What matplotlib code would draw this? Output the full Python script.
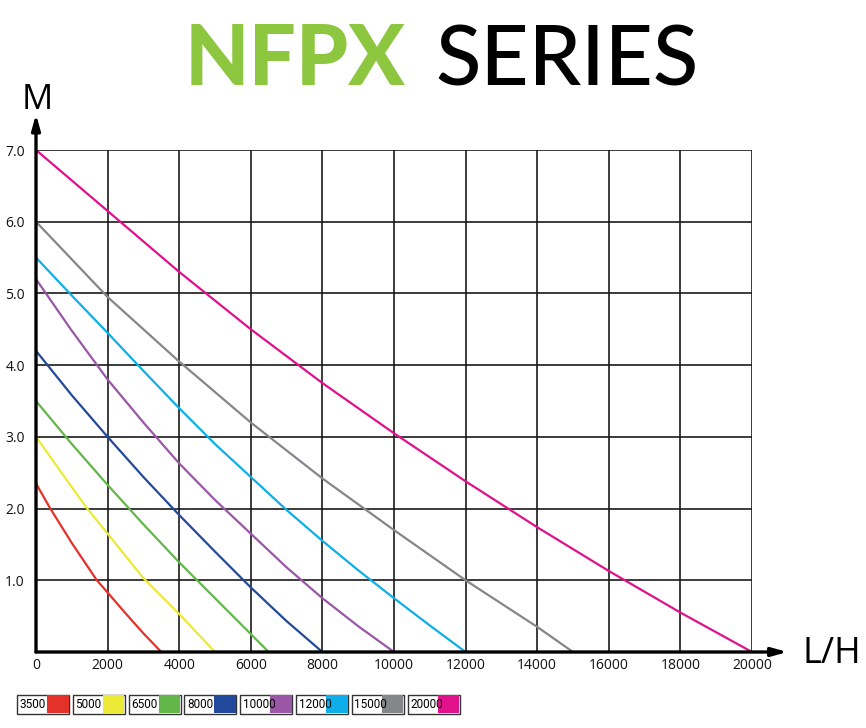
import matplotlib
matplotlib.use("Agg")
import matplotlib.pyplot as plt
from matplotlib.patches import Rectangle
from matplotlib import font_manager

# pump models (max flow L/H) and their curve colours
models = ["3500", "5000", "6500", "8000", "10000", "12000", "15000", "20000"]
colors = ["#e4322b", "#ece937", "#63b649", "#22499b", "#9a57a6", "#0eaeea", "#85868a", "#e0118a"]

# head (M) vs flow (L/H)
flow_3500 = [0, 400, 1000, 1700, 2000, 2500, 3000, 3500]
head_3500 = [2.35, 2.0, 1.52, 1.0, 0.83, 0.54, 0.26, 0.0]

flow_5000 = [0, 1000, 1430, 2000, 3000, 4000, 5000]
head_5000 = [3.0, 2.3, 2.0, 1.65, 1.03, 0.53, 0.0]

flow_6500 = [0, 1000, 2000, 3000, 4000, 5000, 6000, 6500]
head_6500 = [3.5, 2.9, 2.33, 1.78, 1.25, 0.75, 0.25, 0.0]

flow_8000 = [0, 1000, 2000, 3000, 4000, 5000, 6000, 7000, 8000]
head_8000 = [4.2, 3.58, 3.0, 2.44, 1.91, 1.4, 0.9, 0.43, 0.0]

flow_10000 = [0, 1000, 2000, 3000, 4000, 5000, 6000, 7000, 8000, 9000, 10000]
head_10000 = [5.2, 4.48, 3.8, 3.2, 2.63, 2.12, 1.65, 1.18, 0.75, 0.36, 0.0]

flow_12000 = [0, 1000, 2000, 3000, 4000, 5000, 6000, 7000, 8000, 9000, 10000, 11000, 12000]
head_12000 = [5.5, 4.97, 4.45, 3.92, 3.4, 2.9, 2.44, 1.98, 1.55, 1.14, 0.75, 0.37, 0.0]

flow_15000 = [0, 2000, 4000, 6000, 8000, 10000, 12000, 14000, 15000]
head_15000 = [6.0, 4.95, 4.05, 3.2, 2.42, 1.7, 1.0, 0.35, 0.0]

flow_20000 = [0, 2000, 4000, 6000, 8000, 10000, 12000, 14000, 16000, 18000, 20000]
head_20000 = [7.0, 6.15, 5.3, 4.5, 3.75, 3.05, 2.38, 1.74, 1.13, 0.55, 0.0]

flows = [flow_3500, flow_5000, flow_6500, flow_8000, flow_10000, flow_12000, flow_15000, flow_20000]
heads = [head_3500, head_5000, head_6500, head_8000, head_10000, head_12000, head_15000, head_20000]

x_ticks = list(range(0, 20001, 2000))
x_tick_labels = [str(v) for v in x_ticks]
y_ticks = [1, 2, 3, 4, 5, 6, 7]
y_tick_labels = ["1.0", "2.0", "3.0", "4.0", "5.0", "6.0", "7.0"]

# narrow font for the legend if there is one
installed = {f.name for f in font_manager.fontManager.ttflist}
legend_font = "Liberation Sans Narrow" if "Liberation Sans Narrow" in installed else "Roboto"
legend_size = 10 if legend_font == "Liberation Sans Narrow" else 8.5

W, H = 866, 728
fig = plt.figure(figsize=(W / 100, H / 100), dpi=100)
ax = fig.add_axes([36 / W, 1 - 652 / H, 716 / W, 502 / H])

# grid
for xv in x_ticks[1:]:
    ax.plot([xv, xv], [0, 7], color="#1a1a1a", lw=1.2, zorder=1)
for yv in y_ticks:
    ax.plot([0, 20000], [yv, yv], color="#1a1a1a", lw=1.2, zorder=1)

for f, h, c in zip(flows, heads, colors):
    ax.plot(f, h, color=c, lw=1.6, zorder=3, solid_capstyle="butt", solid_joinstyle="round")

ax.set_xlim(0, 20000)
ax.set_ylim(0, 7)
for s in ax.spines.values():
    s.set_visible(False)
ax.set_xticks(x_ticks)
ax.set_xticklabels(x_tick_labels)
ax.set_yticks(y_ticks)
ax.set_yticklabels(y_tick_labels)
ax.tick_params(length=0, labelsize=10, colors="#111111")
ax.tick_params(axis="x", pad=4)
ax.tick_params(axis="y", pad=8)
for lab in ax.get_xticklabels() + ax.get_yticklabels():
    lab.set_family("Open Sans")

# axes with arrows
ax.annotate("", xy=(0, 7.5), xytext=(0, 0), annotation_clip=False,
            arrowprops=dict(arrowstyle="-|>,head_length=0.9,head_width=0.25", color="black", lw=2.4,
                            shrinkA=0, shrinkB=0))
ax.annotate("", xy=(20990, 0), xytext=(0, 0), annotation_clip=False,
            arrowprops=dict(arrowstyle="-|>,head_length=0.9,head_width=0.25", color="black", lw=2.4,
                            shrinkA=0, shrinkB=0))

fig.text(37 / W, 1 - 109 / H, "M", fontsize=25, family="Open Sans", ha="center", va="baseline")
fig.text(803 / W, 1 - 663 / H, "L/H", fontsize=26, family="Open Sans", ha="left", va="baseline")

# title
fig.text(185 / W, 1 - 85 / H, "NFPX", fontsize=60, family="Lato", weight="black",
         color="#8dc63f", ha="left", va="baseline")
fig.text(435 / W, 1 - 85 / H, "SERIES", fontsize=60, family="Lato", weight="medium",
         color="black", ha="left", va="baseline")

# legend boxes
for i, (m, c) in enumerate(zip(models, colors)):
    x0 = 17 + i * 55.8
    fig.patches.append(Rectangle((x0 / W, 1 - 713.5 / H), 52 / W, 19 / H, transform=fig.transFigure,
                                 facecolor="white", edgecolor="#333333", lw=1.0))
    fig.patches.append(Rectangle(((x0 + 30) / W, 1 - 713 / H), 21.5 / W, 18 / H,
                                 transform=fig.transFigure, facecolor=c, edgecolor="none"))
    fig.text((x0 + 2.5) / W, 1 - 704 / H, m, fontsize=legend_size, family=legend_font,
             ha="left", va="center")

fig.savefig("out.png", dpi=100)
